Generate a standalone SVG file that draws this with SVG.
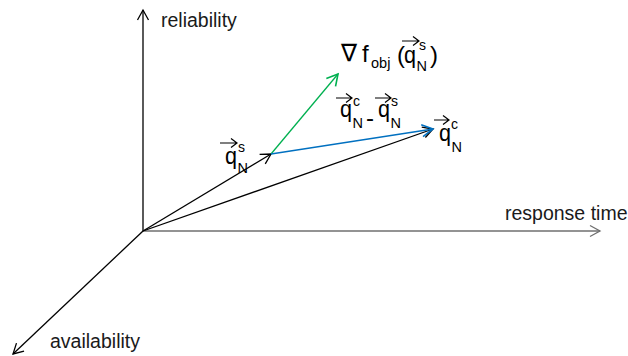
<svg xmlns="http://www.w3.org/2000/svg" width="628" height="356" viewBox="0 0 628 356">
<style>
.ax{font-family:"Liberation Sans","DejaVu Sans",sans-serif;font-size:19.5px;fill:#1a1a1a}
.q{font-family:"Liberation Sans","DejaVu Sans",sans-serif;font-size:24px;fill:#000}
.sm{font-family:"Liberation Sans","DejaVu Sans",sans-serif;font-size:14.5px;fill:#000}
.sup{font-family:"Liberation Sans","DejaVu Sans",sans-serif;font-size:14px;fill:#000}
.ln{fill:none;stroke-width:1.3}
.oa{fill:none;stroke:#000;stroke-width:1.2}
</style>
<defs>
<marker id="mkB" markerWidth="14" markerHeight="14" refX="12" refY="7" orient="auto" markerUnits="userSpaceOnUse">
<path d="M2,1.5 L12,7 L2,12.5" fill="none" stroke="#000" stroke-width="1.3"/>
</marker>
<marker id="mkG" markerWidth="16" markerHeight="16" refX="13" refY="8" orient="auto" markerUnits="userSpaceOnUse">
<path d="M2,2 L13,8 L2,14" fill="none" stroke="#00b050" stroke-width="1.6"/>
</marker>
<marker id="mkL" markerWidth="16" markerHeight="16" refX="13" refY="8" orient="auto" markerUnits="userSpaceOnUse">
<path d="M2,2 L13,8 L2,14" fill="none" stroke="#0070c0" stroke-width="1.6"/>
</marker>
<marker id="mkA" markerWidth="14" markerHeight="14" refX="12" refY="7" orient="auto" markerUnits="userSpaceOnUse">
<path d="M2,1.5 L12,7 L2,12.5" fill="none" stroke="#6f6f6f" stroke-width="1.3"/>
</marker>
</defs>
<g id="connectors">
<line class="ln" x1="143" y1="231" x2="143" y2="10" stroke="#000" marker-end="url(#mkB)"/>
<line class="ln" x1="143" y1="231" x2="600" y2="231" stroke="#6f6f6f" marker-end="url(#mkA)"/>
<line class="ln" x1="143" y1="231" x2="13" y2="354" stroke="#000" marker-end="url(#mkB)"/>
<line class="ln" x1="143" y1="231" x2="271" y2="154" stroke="#000" marker-end="url(#mkB)"/>
<line class="ln" x1="143" y1="231" x2="433" y2="129" stroke="#000" marker-end="url(#mkB)"/>
<line class="ln" x1="271" y1="154" x2="338" y2="74" stroke="#00b050" stroke-width="2" marker-end="url(#mkG)"/>
<line class="ln" x1="271" y1="154" x2="433" y2="129" stroke="#0070c0" stroke-width="2" marker-end="url(#mkL)"/>
</g>
<g id="axis-reliability"><text class="ax" x="161" y="27">reliability</text></g>
<g id="axis-response"><text class="ax" x="505" y="220">response time</text></g>
<g id="axis-availability"><text class="ax" x="50" y="348">availability</text></g>
<g id="label-grad">
<text class="q" x="341" y="61">∇</text>
<text class="q" x="362" y="62">f</text>
<text class="sm" x="371" y="68">obj</text>
<text class="q" x="397" y="63">(</text>
<text class="q" x="404" y="63" textLength="12" lengthAdjust="spacingAndGlyphs">q</text>
<text class="sup" x="419" y="50">s</text>
<text class="sm" x="416.5" y="71">N</text>
<text class="q" x="430" y="63">)</text>
<path class="oa" d="M402,41 H419 M413,36.5 L419,41 L413,45.5"/>
</g>
<g id="label-diff">
<text class="q" x="340" y="117" textLength="12" lengthAdjust="spacingAndGlyphs">q</text>
<text class="sup" x="353" y="106">c</text>
<text class="sm" x="352.5" y="128">N</text>
<text class="q" x="366" y="126">-</text>
<text class="q" x="378" y="117" textLength="12" lengthAdjust="spacingAndGlyphs">q</text>
<text class="sup" x="391" y="106">s</text>
<text class="sm" x="390.5" y="128">N</text>
<path class="oa" d="M336,98 H352 M346,93.5 L352,98 L346,102.5"/>
<path class="oa" d="M375,98 H391 M385,93.5 L391,98 L385,102.5"/>
</g>
<g id="label-qc">
<text class="q" x="439" y="141" textLength="12" lengthAdjust="spacingAndGlyphs">q</text>
<text class="sup" x="451" y="129">c</text>
<text class="sm" x="451.5" y="152">N</text>
<path class="oa" d="M434,120 H449 M443,115.5 L449,120 L443,124.5"/>
</g>
<g id="label-qs">
<text class="q" x="225" y="164" textLength="12" lengthAdjust="spacingAndGlyphs">q</text>
<text class="sup" x="238" y="152">s</text>
<text class="sm" x="237.5" y="173">N</text>
<path class="oa" d="M220,143 H237 M231,138.5 L237,143 L231,147.5"/>
</g>
</svg>
